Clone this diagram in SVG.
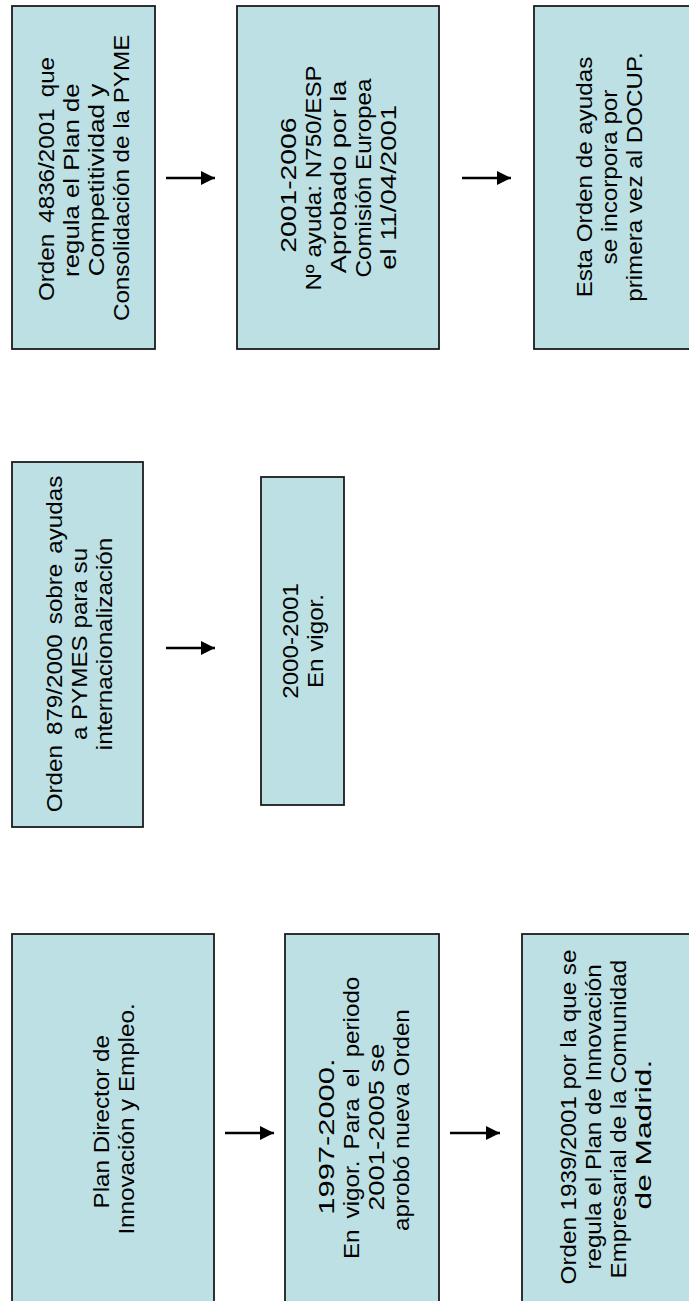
<svg xmlns="http://www.w3.org/2000/svg" width="689" height="1301" viewBox="0 0 689 1301">
  <style>
    .box { fill: #bce0e3; stroke: #1c1c1c; stroke-width: 1.8; }
    .lbl { font-family: "Liberation Sans", Arial, sans-serif; font-size: 22px; fill: #000; text-anchor: middle; }
    .arr { stroke: #000; stroke-width: 2.6; fill: none; marker-end: url(#head); }
  </style>
  <defs>
    <marker id="head" markerUnits="userSpaceOnUse" markerWidth="15" markerHeight="15" refX="14" refY="7.5" orient="auto">
      <path d="M0,0.5 L14,7.5 L0,14.5 z" fill="#000"/>
    </marker>
  </defs>
  <rect x="0" y="0" width="689" height="1301" fill="#ffffff"/>

  <g id="node-orden4836">
    <rect class="box" x="12" y="6" width="143" height="343"/>
    <g transform="translate(0,179) rotate(-90) scale(1.1,1)">
      <text class="lbl" x="0" y="54.5" word-spacing="4">Orden 4836/2001 que</text>
      <text class="lbl" x="-1" y="79.5" textLength="176" lengthAdjust="spacingAndGlyphs">regula el Plan de</text>
      <text class="lbl" x="-1" y="104.5" textLength="175" lengthAdjust="spacingAndGlyphs">Competitividad y</text>
      <text class="lbl" x="1" y="129.5">Consolidación de la PYME</text>
    </g>
  </g>

  <g id="node-n750">
    <rect class="box" x="237" y="6" width="202" height="343"/>
    <g transform="translate(0,178) rotate(-90) scale(1.1,1)">
      <text class="lbl" x="-6.5" y="296.5" textLength="123" lengthAdjust="spacingAndGlyphs">2001-2006</text>
      <text class="lbl" x="0" y="321.5">Nº ayuda: N750/ESP</text>
      <text class="lbl" x="1" y="346.5" textLength="175" lengthAdjust="spacingAndGlyphs">Aprobado por la</text>
      <text class="lbl" x="0" y="371.5">Comisión Europea</text>
      <text class="lbl" x="-8.5" y="396.5" textLength="150" lengthAdjust="spacingAndGlyphs">el 11/04/2001</text>
    </g>
  </g>

  <g id="node-docup">
    <rect class="box" x="534" y="6" width="158" height="343"/>
    <g transform="translate(0,177) rotate(-90) scale(1.1,1)">
      <text class="lbl" x="0" y="592">Esta Orden de ayudas</text>
      <text class="lbl" x="0" y="617">se incorpora por</text>
      <text class="lbl" x="0" y="642">primera vez al DOCUP.</text>
    </g>
  </g>

  <g id="node-orden879">
    <rect class="box" x="12" y="462" width="131" height="365"/>
    <g transform="translate(0,644) rotate(-90) scale(1.1,1)">
      <text class="lbl" x="0" y="62" word-spacing="3">Orden 879/2000 sobre ayudas</text>
      <text class="lbl" x="0" y="87">a PYMES para su</text>
      <text class="lbl" x="0" y="112">internacionalización</text>
    </g>
  </g>

  <g id="node-2000-2001">
    <rect class="box" x="261" y="477" width="83" height="328"/>
    <g transform="translate(0,641) rotate(-90) scale(1.1,1)">
      <text class="lbl" x="0" y="298.5">2000-2001</text>
      <text class="lbl" x="0" y="323.5">En vigor.</text>
    </g>
  </g>

  <g id="node-plan-director">
    <rect class="box" x="12" y="934" width="202" height="372"/>
    <g transform="translate(0,1119) rotate(-90) scale(1.1,1)">
      <text class="lbl" x="-2.5" y="109.5">Plan Director de</text>
      <text class="lbl" x="0" y="134.5">Innovación y Empleo.</text>
    </g>
  </g>

  <g id="node-1997-2000">
    <rect class="box" x="285" y="934" width="154" height="372"/>
    <g transform="translate(0,1119) rotate(-90) scale(1.1,1)">
      <text class="lbl" x="-16" y="334.5" textLength="142" lengthAdjust="spacingAndGlyphs">1997-2000.</text>
      <text class="lbl" x="1" y="359.5" word-spacing="4">En vigor. Para el periodo</text>
      <text class="lbl" x="-7.5" y="384.5" textLength="152" lengthAdjust="spacingAndGlyphs">2001-2005 se</text>
      <text class="lbl" x="-1" y="409.5">aprobó nueva Orden</text>
    </g>
  </g>

  <g id="node-orden1939">
    <rect class="box" x="522" y="934" width="170" height="372"/>
    <g transform="translate(0,1117) rotate(-90) scale(1.1,1)">
      <text class="lbl" x="0" y="576">Orden 1939/2001 por la que se</text>
      <text class="lbl" x="0" y="601">regula el Plan de Innovación</text>
      <text class="lbl" x="-2" y="626">Empresarial de la Comunidad</text>
      <text class="lbl" x="-16" y="651" textLength="136" lengthAdjust="spacingAndGlyphs">de Madrid.</text>
    </g>
  </g>

  <g id="connectors">
    <line class="arr" x1="166" y1="178" x2="215" y2="178"/>
    <line class="arr" x1="462" y1="178" x2="511" y2="178"/>
    <line class="arr" x1="166" y1="648" x2="215" y2="648"/>
    <line class="arr" x1="225" y1="1133" x2="274" y2="1133"/>
    <line class="arr" x1="450" y1="1133" x2="500" y2="1133"/>
  </g>
</svg>
